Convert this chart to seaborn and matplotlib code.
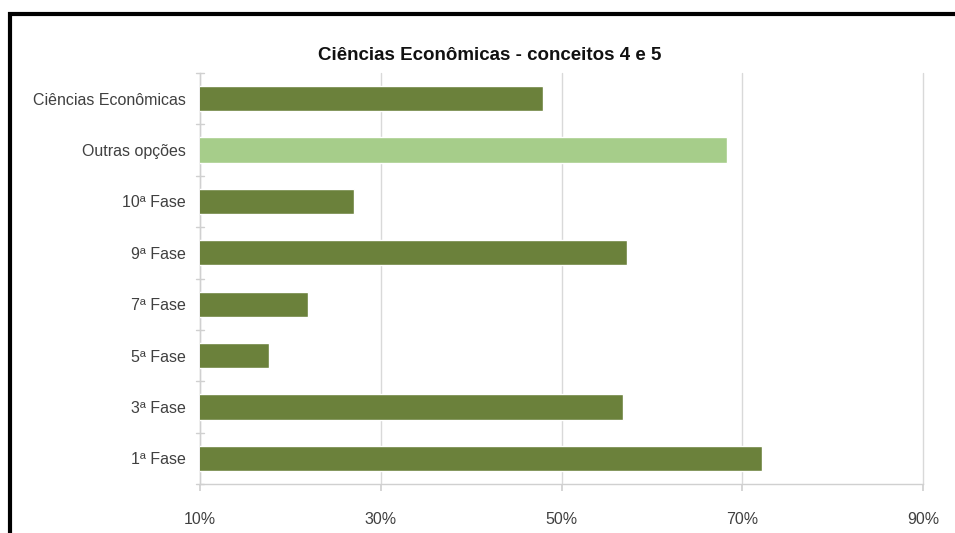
import matplotlib
matplotlib.use("Agg")
import matplotlib.pyplot as plt
import seaborn as sns
import pandas as pd
from matplotlib.lines import Line2D

categories = ["Ciências Econômicas", "Outras opções", "10ª Fase", "9ª Fase",
              "7ª Fase", "5ª Fase", "3ª Fase", "1ª Fase"]
values = [48.0, 68.3, 27.0, 57.2, 22.0, 17.6, 56.8, 72.2]
groups = ["curso", "outras", "fase", "fase", "fase", "fase", "fase", "fase"]
xticks = [10, 30, 50, 70, 90]
xticklabels = ["10%", "30%", "50%", "70%", "90%"]
title = "Ciências Econômicas - conceitos 4 e 5"

df = pd.DataFrame({"categoria": categories, "valor": values, "grupo": groups})
palette = {"curso": "#6B813B", "outras": "#A6CD8A", "fase": "#6B813B"}

sns.set_theme(style="white")
plt.rcParams["font.family"] = ["Liberation Sans", "DejaVu Sans"]

fig = plt.figure(figsize=(9.55, 5.33), dpi=100)
W, H = 955, 533
ax = fig.add_axes([200 / W, 1 - 484 / H, (923 - 200) / W, (484 - 73) / H])

sns.barplot(data=df, x="valor", y="categoria", hue="grupo", palette=palette,
            order=categories, orient="h", width=0.49, dodge=False,
            saturation=1, legend=False, ax=ax, zorder=3)
for p in ax.patches:
    p.set_zorder(3)

ax.set_xlim(10, 90)
ax.set_ylim(len(categories) - 0.5, -0.5)
ax.set_xticks(xticks)
ax.set_xticklabels(xticklabels)
ax.set_xlabel("")
ax.set_ylabel("")
ax.grid(axis="x", color="#D9D9D9", linewidth=1.0, zorder=0)
for gl in ax.get_xgridlines():
    gl.set_clip_on(False)
ax.set_axisbelow(True)

for s in ["top", "right"]:
    ax.spines[s].set_visible(False)
for s in ["left", "bottom"]:
    ax.spines[s].set_color("#D0D0D0")
    ax.spines[s].set_linewidth(1.0)

ax.tick_params(axis="x", length=5, color="#D0D0D0", labelsize=11.5,
               labelcolor="#404040", pad=15, direction="out", bottom=True)
ax.tick_params(axis="y", length=0, labelsize=11.5, labelcolor="#404040", pad=10)

# category boundary ticks on the left axis
for b in range(len(categories) + 1):
    y = b - 0.5
    ax.add_line(Line2D([-0.006, 0.006], [y, y], transform=ax.get_yaxis_transform(),
                       color="#D0D0D0", linewidth=1.0, clip_on=False))

fig.text(490 / W, 1 - 55 / H, title, ha="center", va="center",
         fontsize=13.5, fontweight="bold", color="#111111")

# black frame (top and left only visible)
fig.add_artist(Line2D([8 / W, 1.0], [1 - 13.5 / H, 1 - 13.5 / H],
                      transform=fig.transFigure, color="black", linewidth=3,
                      solid_capstyle="butt"))
fig.add_artist(Line2D([9.5 / W, 9.5 / W], [0, 1 - 12 / H],
                      transform=fig.transFigure, color="black", linewidth=3,
                      solid_capstyle="butt"))

fig.savefig("out.png", dpi=100, facecolor="white")
